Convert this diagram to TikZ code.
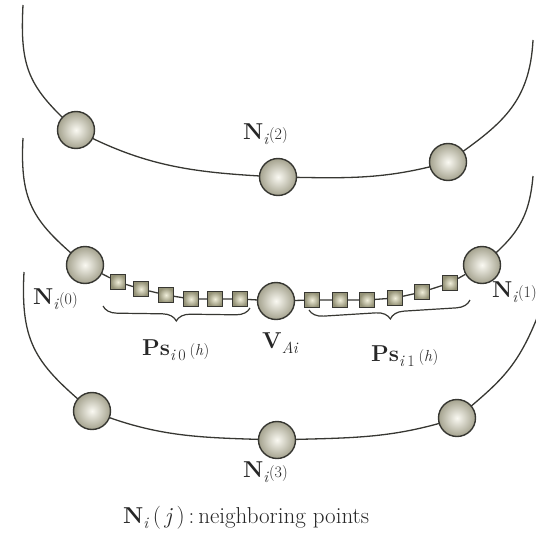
\documentclass[tikz,border=0pt]{standalone}
\usepackage{fontspec}
\usetikzlibrary{decorations.pathreplacing,backgrounds}
\definecolor{linec}{RGB}{55,55,50}
\definecolor{ballin}{RGB}{250,249,242}
\definecolor{ballout}{RGB}{165,163,143}
\definecolor{sqin}{RGB}{240,238,218}
\definecolor{sqout}{RGB}{148,146,118}
\newcommand{\smallpar}[1]{{\fontsize{16}{16}\selectfont #1}}
\newcommand{\lowsub}[1]{\raisebox{-5.5pt}{\fontsize{16}{16}\selectfont #1}}
\begin{document}
\begin{tikzpicture}[x=1pt,y=1pt,
  ballnode/.style={circle, minimum size=37pt, inner sep=0pt, draw=linec, line width=1.4pt, inner color=ballin, outer color=ballout},
  sqnode/.style={rectangle, minimum size=15pt, inner sep=0pt, draw=linec, line width=1.3pt, inner color=sqin, outer color=sqout},
  curve/.style={draw=linec, line width=1.3pt},
  bracestyle/.style={draw=linec, line width=1.2pt, decorate, decoration={brace, mirror, amplitude=14pt, aspect=0.5}},
  lbl/.style={inner sep=0pt, anchor=base west, text=black!85, font=\fontsize{23}{27}\selectfont},
]
\useasboundingbox (0,0) rectangle (535,-543);
% top curve
\node[ballnode] (a1) at (76,-130) {};
\node[ballnode] (a2) at (278,-177) {};
\node[ballnode] (a3) at (448,-162) {};
\coordinate (s1) at (23,-5);
\coordinate (e1) at (533,-40);
% middle curve
\node[ballnode] (n0) at (85,-265) {};
\node[ballnode] (vai) at (276,-301) {};
\node[ballnode] (n1) at (482,-265) {};
\coordinate (s2) at (23,-138);
\coordinate (e2) at (533,-176);
\node[sqnode] (q1) at (118,-282) {};
\node[sqnode] (q2) at (141,-289) {};
\node[sqnode] (q3) at (166,-295) {};
\node[sqnode] (q4) at (191,-299) {};
\node[sqnode] (q5) at (215,-299) {};
\node[sqnode] (q6) at (240,-299) {};
\node[sqnode] (r1) at (312,-300) {};
\node[sqnode] (r2) at (340,-300) {};
\node[sqnode] (r3) at (367,-300) {};
\node[sqnode] (r4) at (395,-298) {};
\node[sqnode] (r5) at (422,-292) {};
\node[sqnode] (r6) at (450,-283) {};
% bottom curve
\node[ballnode] (b1) at (92,-411) {};
\node[ballnode] (b2) at (277,-440) {};
\node[ballnode] (b3) at (457,-418) {};
\coordinate (s3) at (24,-272);
\coordinate (e3) at (537,-318);
\begin{scope}[on background layer]
\draw[curve] (s1) to[out=-93,in=138,looseness=1.2] (a1.center) to[out=-28,in=177] (a2.center) to[out=-1,in=196] (a3.center) to[out=35,in=-93,looseness=1.1] (e1);
\draw[curve] (s2) to[out=-93,in=140,looseness=1.2] (n0.center);
\draw[curve] (n1.center) to[out=40,in=-95,looseness=1.1] (e2);
\draw[curve] (n0) -- (q1) -- (q2) -- (q3) -- (q4) -- (q5) -- (q6) -- (vai) -- (r1) -- (r2) -- (r3) -- (r4) -- (r5) -- (r6) -- (n1);
\draw[curve] (s3) to[out=-93,in=140,looseness=1.2] (b1.center) to[out=-22,in=178] (b2.center) to[out=2,in=198] (b3.center) to[out=40,in=-112,looseness=1.1] (e3);
\end{scope}
% braces
\coordinate (bl1) at (103,-306);
\coordinate (bl2) at (250,-308);
\coordinate (br1) at (309,-310);
\coordinate (br2) at (470,-300);
\draw[bracestyle] (bl1) -- (bl2);
\draw[bracestyle] (br1) -- (br2);
% labels
\node[lbl] (l2) at (243,-139) {\textbf{N}\lowsub{\textit{i}}\smallpar{(2)}};
\node[lbl] (l0) at (33,-304) {\textbf{N}\lowsub{\textit{i}}\smallpar{(0)}};
\node[lbl] (l1) at (492,-297) {\textbf{N}\lowsub{\textit{i}}\smallpar{(1)}};
\node[lbl] (l3) at (243,-477) {\textbf{N}\lowsub{\textit{i}}\smallpar{(3)}};
\node[lbl] (lv) at (262,-348) {\textbf{V}\lowsub{\textit{Ai}}};
\node[lbl] (lp0) at (142,-355) {\textbf{Ps}\lowsub{\textit{i}\,0}\,\smallpar{(\textit{h})}};
\node[lbl] (lp1) at (371,-361) {\textbf{Ps}\lowsub{\textit{i}\,1}\,\smallpar{(\textit{h})}};
\node[lbl] (cap) at (123,-523) {\textbf{N}\lowsub{\textit{i}}\,(\,\textit{j}\,)\,:\,neighboring points};
\end{tikzpicture}
\end{document}
